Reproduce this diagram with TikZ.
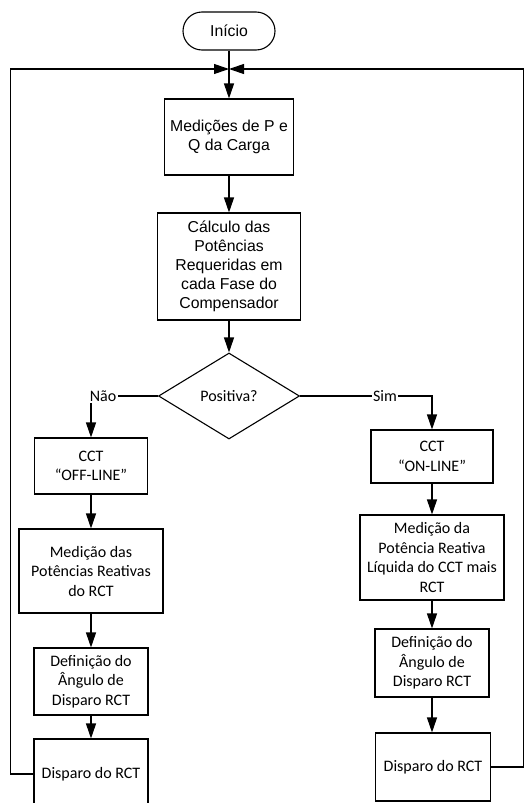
\documentclass[tikz,border=0pt]{standalone}
\usepackage{fontspec}
\setmainfont{Carlito}
\newfontfamily\arialfont{Liberation Sans}
\usetikzlibrary{arrows.meta,shapes.geometric,shapes.misc,positioning}

\begin{document}
\begin{tikzpicture}[x=1pt,y=-1pt,>={Triangle[length=15pt,width=10pt]},line width=1.1pt,
  caixa/.style={draw,rectangle,inner sep=0pt,align=center,font=\fontsize{16}{19.5}\selectfont},
  caixaA/.style={caixa,font=\arialfont\fontsize{15.8}{19}\selectfont},
  term/.style={draw,rounded rectangle,minimum width=92pt,minimum height=38pt,inner sep=0pt,font=\arialfont\fontsize{15.8}{19}\selectfont},
  decis/.style={draw,diamond,minimum width=141pt,minimum height=86pt,inner sep=0pt,font=\fontsize{16}{19.5}\selectfont},
  rot/.style={fill=white,inner sep=1.5pt,font=\fontsize{16}{19.5}\selectfont}]
  \useasboundingbox (0,0) rectangle (525,803);
  \clip (0,0) rectangle (525,803);
  % tronco
  \node[term] (inicio) at (229,31) {Início};
  \coordinate (junta) at (229,69);
  \node[caixaA,minimum width=129pt,minimum height=76pt] (medPQ) at (229,137) {Medições de P e\\Q da Carga};
  \node[caixaA,minimum width=143pt,minimum height=107pt] (calc) at (229,266.5) {Cálculo das\\Potências\\Requeridas em\\cada Fase do\\Compensador};
  \node[decis] (pos) at (229,396) {Positiva?};
  % ramo Nao
  \node[caixa,minimum width=113pt,minimum height=56pt] (off) at (91,466) {CCT\\“OFF-LINE”};
  \node[caixa,minimum width=144pt,minimum height=84pt] (medL) at (91,571) {Medição das\\Potências Reativas\\do RCT};
  \node[caixa,minimum width=114pt,minimum height=67pt] (defL) at (91,681.5) {Definição do\\Ângulo de\\Disparo RCT};
  \node[caixa,minimum width=114pt,minimum height=70pt] (dispL) at (91,774) {Disparo do RCT};
  % ramo Sim
  \node[caixa,minimum width=122pt,minimum height=53pt] (on) at (432,456.5) {CCT\\“ON-LINE”};
  \node[caixa,minimum width=144pt,minimum height=85pt] (medR) at (432,557.5) {Medição da\\Potência Reativa\\Líquida do CCT mais\\RCT};
  \node[caixa,minimum width=114pt,minimum height=68pt] (defR) at (432,663) {Definição do\\Ângulo de\\Disparo RCT};
  \node[caixa,minimum width=115pt,minimum height=68pt] (dispR) at (433,767) {Disparo do RCT};
  % ligacoes
  \draw (inicio) -- (junta);
  \draw[->] (junta) -- (medPQ);
  \draw[->] (medPQ) -- (calc);
  \draw[->] (calc) -- (pos);
  \draw[->] (pos.west) -- (off.north |- pos.west) -- (off.north);
  \draw[->] (pos.east) -- (on.north |- pos.east) -- (on.north);
  \node[rot] (nao) at (103,396) {Não};
  \node[rot] (sim) at (385,396) {Sim};
  \draw[->] (off) -- (medL);
  \draw[->] (medL) -- (defL);
  \draw[->] (defL) -- (dispL);
  \draw[->] (on) -- (medR);
  \draw[->] (medR) -- (defR);
  \draw[->] (defR) -- (defR |- dispR.north);
  % retorno
  \draw[->] (dispL.west) -- ++(-23,0) |- (junta);
  \draw[->] (dispR.east) -- ++(32,0) |- (junta);
\end{tikzpicture}
\end{document}
